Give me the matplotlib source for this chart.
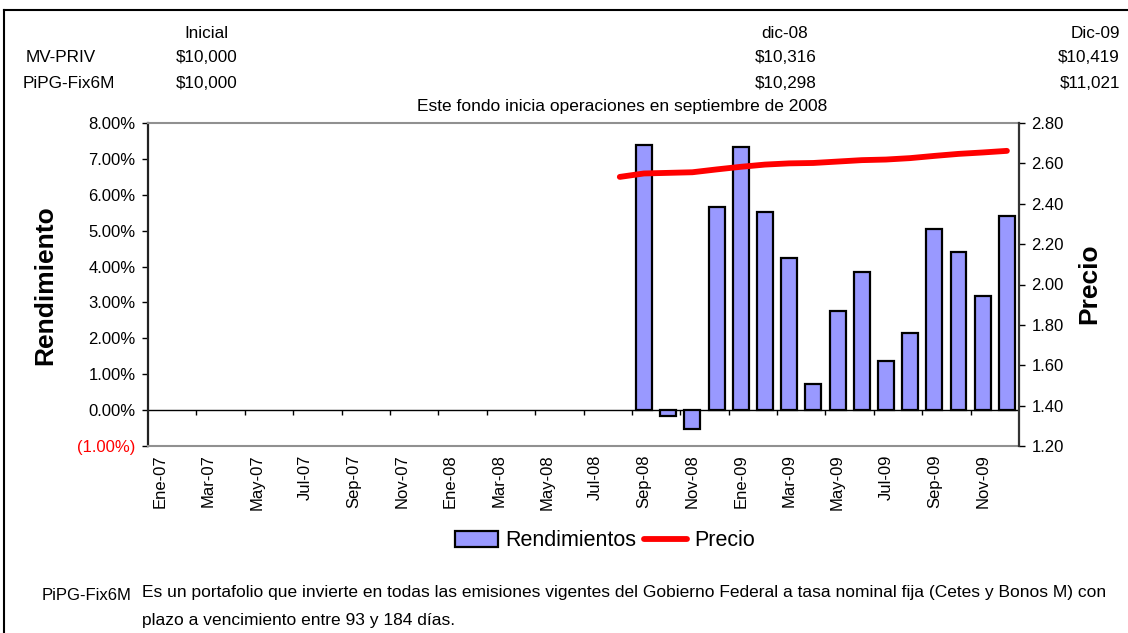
import numpy as np
import matplotlib
matplotlib.use("Agg")
import matplotlib.pyplot as plt
from matplotlib.lines import Line2D
from matplotlib.ticker import FuncFormatter, MultipleLocator

plt.rcParams['font.family'] = ['Liberation Sans', 'DejaVu Sans']

# ---------------- data ----------------
meses = ['Ene-07', 'Feb-07', 'Mar-07', 'Abr-07', 'May-07', 'Jun-07', 'Jul-07', 'Ago-07',
         'Sep-07', 'Oct-07', 'Nov-07', 'Dic-07', 'Ene-08', 'Feb-08', 'Mar-08', 'Abr-08',
         'May-08', 'Jun-08', 'Jul-08', 'Ago-08', 'Sep-08', 'Oct-08', 'Nov-08', 'Dic-08',
         'Ene-09', 'Feb-09', 'Mar-09', 'Abr-09', 'May-09', 'Jun-09', 'Jul-09', 'Ago-09',
         'Sep-09', 'Oct-09', 'Nov-09', 'Dic-09']

rend_inicio = 'Sep-08'
rendimientos = [7.38, -0.17, -0.52, 5.65, 7.32, 5.53, 4.23, 0.72,
                2.77, 3.86, 1.36, 2.15, 5.05, 4.40, 3.19, 5.40]   # %

precio_inicio = 'Ago-08'
precio = [2.533, 2.550, 2.553, 2.556, 2.570, 2.583, 2.594, 2.600, 2.602,
          2.609, 2.616, 2.619, 2.626, 2.637, 2.647, 2.654, 2.662]

encabezado_cols = ['Inicial', 'dic-08', 'Dic-09']
fondos = ['MV-PRIV', 'PiPG-Fix6M']
valores_mvpriv = ['$10,000', '$10,316', '$10,419']
valores_pipg = ['$10,000', '$10,298', '$11,021']

titulo = 'Este fondo inicia operaciones en septiembre de 2008'
descripcion_1 = ('Es un portafolio que invierte en todas las emisiones vigentes del Gobierno Federal '
                 'a tasa nominal fija (Cetes y Bonos M) con')
descripcion_2 = 'plazo a vencimiento entre 93 y 184 días.'

# ---------------- figure ----------------
W, H = 1128, 633
fig = plt.figure(figsize=(W / 100, H / 100), dpi=100)

def fx(px):
    return px / W

def fy(py):
    return 1 - py / H

ax = fig.add_axes([fx(148), fy(446), fx(1019) - fx(148), fy(123) - fy(446)])

x_r = meses.index(rend_inicio) + np.arange(len(rendimientos))
x_p = meses.index(precio_inicio) + np.arange(len(precio))

ax.bar(x_r, rendimientos, width=0.66, color='#9999FF', edgecolor='black',
       linewidth=1.6, zorder=3, label='Rendimientos')
ax.axhline(0, color='black', lw=1.0, zorder=2)
# tick marks on the zero line (every two categories)
ax.vlines(np.arange(2, len(meses), 2) - 0.5, -0.14, 0, color='black', lw=1.0, zorder=2)

ax.set_xlim(-0.5, len(meses) - 0.5)
ax.set_ylim(-1, 8)
ax.yaxis.set_major_locator(MultipleLocator(1))

def pct(v, pos):
    if v < 0:
        return '({:.2f}%)'.format(-v)
    return '{:.2f}%'.format(v)

ax.yaxis.set_major_formatter(FuncFormatter(pct))
ax.set_xticks(np.arange(0, len(meses), 2))
ax.set_xticklabels(meses[::2], rotation=90)
ax.tick_params(axis='x', length=0, pad=6, labelsize=12)
ax.tick_params(axis='y', length=4, width=1, pad=5, labelsize=12, direction='out')
fig.canvas.draw()
for lbl, v in zip(ax.get_yticklabels(), ax.get_yticks()):
    if v < 0:
        lbl.set_color('red')

ax.spines['top'].set_color('#909090')
ax.spines['bottom'].set_color('#909090')
ax.spines['top'].set_linewidth(1.5)
ax.spines['bottom'].set_linewidth(1.5)
ax.spines['left'].set_color('#222222')
ax.spines['left'].set_linewidth(1.6)
ax.spines['right'].set_visible(False)

ax2 = ax.twinx()
ax2.plot(x_p, precio, color='#FF0000', lw=4.2, solid_capstyle='round',
         solid_joinstyle='round', zorder=4, label='Precio')
ax2.set_ylim(1.2, 2.8)
ax2.yaxis.set_major_locator(MultipleLocator(0.2))
ax2.yaxis.set_major_formatter(FuncFormatter(lambda v, p: '{:.2f}'.format(v)))
ax2.tick_params(axis='y', length=4, width=1, pad=5, labelsize=12, direction='out')
for s in ['top', 'bottom', 'left']:
    ax2.spines[s].set_visible(False)
ax2.spines['right'].set_color('#333333')
ax2.spines['right'].set_linewidth(1.6)

# axis titles
fig.text(fx(45), fy(285), 'Rendimiento', rotation=90, ha='center', va='center',
         fontsize=19, fontweight='bold')
fig.text(fx(1089), fy(284), 'Precio', rotation=90, ha='center', va='center',
         fontsize=19, fontweight='bold')

# header table
hs = 12.3
fig.text(fx(206), fy(33), encabezado_cols[0], ha='center', va='center', fontsize=hs)
fig.text(fx(785), fy(33), encabezado_cols[1], ha='center', va='center', fontsize=hs)
fig.text(fx(1120), fy(33), encabezado_cols[2], ha='right', va='center', fontsize=hs)
fig.text(fx(61), fy(58), fondos[0], ha='center', va='center', fontsize=hs)
fig.text(fx(69), fy(83), fondos[1], ha='center', va='center', fontsize=hs)
for row_y, vals in [(58, valores_mvpriv), (83, valores_pipg)]:
    fig.text(fx(238), fy(row_y), vals[0], ha='right', va='center', fontsize=hs)
    fig.text(fx(817), fy(row_y), vals[1], ha='right', va='center', fontsize=hs)
    fig.text(fx(1120), fy(row_y), vals[2], ha='right', va='center', fontsize=hs)

fig.text(fx(622), fy(106), titulo, ha='center', va='center', fontsize=12.5)

# legend
h1, l1 = ax.get_legend_handles_labels()
h2, l2 = ax2.get_legend_handles_labels()
fig.legend(h1 + h2, l1 + l2, loc='center', bbox_to_anchor=(fx(605), fy(541)),
           ncol=2, frameon=False, fontsize=15.5, handlelength=2.0,
           handletextpad=0.3, columnspacing=0.4, borderpad=0)

# description
fig.text(fx(42), fy(595), fondos[1], ha='left', va='center', fontsize=12)
fig.text(fx(142), fy(593), descripcion_1, ha='left', va='center', fontsize=12.5)
fig.text(fx(142), fy(620), descripcion_2, ha='left', va='center', fontsize=12.5)

# frame lines (left and top)
fig.add_artist(Line2D([fx(4), fx(4)], [0, fy(10)], color='black', lw=1.5))
fig.add_artist(Line2D([fx(4), 1], [fy(10), fy(10)], color='black', lw=1.5))

fig.savefig('out.png', dpi=100)
